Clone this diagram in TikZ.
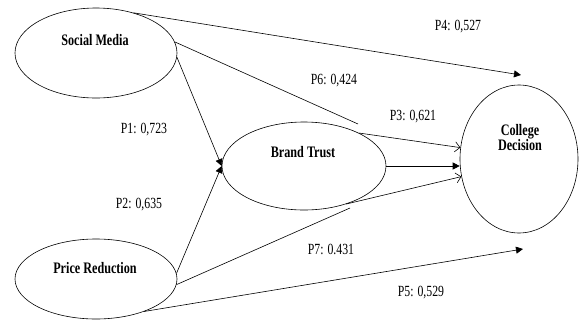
\documentclass[tikz,border=0pt]{standalone}
\usepackage{fontspec}
\setmainfont{Liberation Serif}[FakeStretch=0.76]
\usetikzlibrary{shapes,arrows,arrows.meta,positioning}

\begin{document}
\begin{tikzpicture}[x=1pt,y=1pt,yscale=-1,xscale=1,
  construct/.style={draw,ellipse,line width=0.6pt,inner sep=0pt},
  cname/.style={inner sep=0.75pt,font=\fontsize{16}{17}\selectfont\bfseries,align=center},
  coef/.style={inner sep=0.75pt,font=\fontsize{15.5}{16}\selectfont},
  hyp/.style={line width=0.6pt,-{Triangle[length=7pt,width=7pt]}},
  openhyp/.style={line width=0.6pt,-{Straight Barb[length=5pt,width=10pt]}},
  plainhyp/.style={line width=0.6pt}]
\useasboundingbox (0,0) rectangle (579,327);

%Shape: Ellipses
\node [construct, minimum width=162, minimum height=90] (sm) at (96,53) {};
\node [construct, minimum width=162, minimum height=80] (pr) at (96,279) {};
\node [construct, minimum width=164, minimum height=88] (bt) at (304,166) {};
\node [construct, minimum width=118, minimum height=148] (cd) at (519,159) {};

% Text Nodes
\node [cname] (smtext) at (95,40) {Social Media};
\node [cname] (prtext) at (95,268) {Price Reduction};
\node [cname] (bttext) at (303,152) {Brand Trust};
\node [cname] (cdtext) at (520,138) {College\\[-2pt]Decision};

%free ends
\coordinate (p4end) at (521,75);
\coordinate (p6end) at (358,124);
\coordinate (p7end) at (350,208);
\coordinate (p5end) at (523,249);

%Straight Lines
\draw [hyp] (sm.47) -- (p4end);
\draw [plainhyp] (sm.8) -- (p6end);
\draw [openhyp] (bt.31) -- (cd.169.5);
\draw [hyp] (sm.-3) -- (bt.west);
\draw [hyp] (pr.4) -- (bt.west);
\draw [hyp] (bt.east) -- (bt.east -| cd.west);
\draw [plainhyp] (pr.-4) -- (p7end);
\draw [openhyp] (bt.-42) -- (cd.-163);
\draw [hyp] (pr.-34) -- (p5end);

% Coefficients
\node [coef] (p1) at (144,130) {P1: 0,723};
\node [coef] (p2) at (139,205) {P2: 0,635};
\node [coef] (p3) at (413,117) {P3: 0,621};
\node [coef] (p4) at (458,27) {P4: 0,527};
\node [coef] (p5) at (421,293) {P5: 0,529};
\node [coef] (p6) at (334,81) {P6: 0,424};
\node [coef] (p7) at (331,249) {P7: 0.431};
\end{tikzpicture}
\end{document}
